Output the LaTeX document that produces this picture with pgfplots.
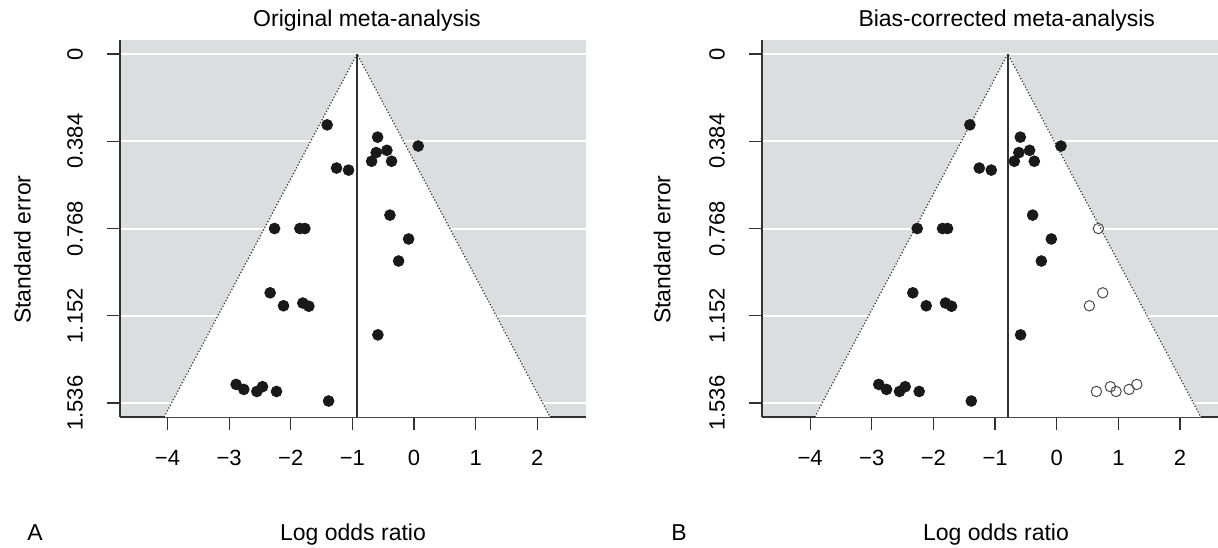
\documentclass[border=0pt]{standalone}
\usepackage{fontspec}
\setmainfont{Liberation Sans}
\usepackage{pgfplots}
\usepackage{pgfplotstable}
\pgfplotsset{compat=1.18}
\definecolor{bggray}{RGB}{220,221,223}
\definecolor{axdark}{RGB}{50,50,50}

% observed studies (log odds ratio, standard error)
\pgfplotstableread{
x y
-1.409 0.312
-0.591 0.366
0.068 0.405
-0.440 0.424
-0.614 0.434
-0.688 0.472
-0.364 0.472
-1.257 0.502
-1.062 0.511
-0.391 0.709
-2.263 0.768
-1.852 0.768
-1.771 0.768
-0.088 0.814
-0.250 0.911
-2.334 1.051
-2.117 1.108
-1.804 1.096
-1.706 1.110
-0.586 1.236
-2.886 1.454
-2.761 1.476
-2.550 1.485
-2.458 1.464
-2.231 1.485
-1.386 1.527
}\studies

% imputed studies (trim and fill)
\pgfplotstableread{
x y
0.675 0.768
0.746 1.051
0.529 1.108
0.643 1.485
0.870 1.464
0.962 1.485
1.173 1.476
1.298 1.454
}\filled

\newcommand{\fs}{\fontsize{11}{13}\selectfont}
\newcommand{\fst}{\fontsize{11.5}{13}\selectfont}

\pgfplotsset{
  funnel/.style={
    anchor=south west, scale only axis,
    height=188.5pt,
    ymin=-0.0614, ymax=1.5974, y dir=reverse,
    axis x line*=bottom, axis y line*=left,
    axis line style={axdark, line width=0.8pt, -},
    axis background/.style={fill=bggray},
    xtick={-4,-3,-2,-1,0,1,2},
    xticklabels={−4,−3,−2,−1,0,1,2},
    ytick={0,0.384,0.768,1.152,1.536},
    yticklabels={0,0.384,0.768,1.152,1.536},
    tick align=outside, major tick length=6.5pt,
    tick style={axdark, line width=0.6pt},
    ymajorgrids, grid style={white, line width=1pt},
    tick label style={font=\fs},
    yticklabel style={rotate=90, anchor=south},
    yticklabel shift=8.5pt,
    xticklabel shift=6.5pt,
    every axis x label/.style={at={(axis description cs:0.5,0)}, anchor=base, yshift=-61.5pt, font=\fst},
    every axis y label/.style={rotate=90, anchor=base, font=\fst},
    xlabel={Log odds ratio},
    ylabel={Standard error},
    clip=true,
  },
}

\begin{document}
\begin{tikzpicture}
\useasboundingbox (0pt,0pt) rectangle (609pt,273.5pt);

\begin{axis}[funnel,
  at={(60pt,65pt)}, width=233pt,
  xmin=-4.77, xmax=2.79,
  title={Original meta-analysis},
  every axis title/.style={at={(axis description cs:0.53,1)}, anchor=base, yshift=7pt, font=\fst},
  every axis y label/.append style={at={(axis description cs:-0.192,0.444)}},
]
\addplot[fill=white, draw=none] coordinates {(-4.055,1.5974) (-0.924,0) (2.207,1.5974)} -- cycle;
\addplot[densely dotted, black!80, line width=0.6pt] coordinates {(-4.055,1.5974) (-0.924,0) (2.207,1.5974)};
\addplot[axdark, line width=0.8pt] coordinates {(-0.924,0) (-0.924,1.5974)};
\addplot[only marks, mark=*, mark size=2.7pt, mark options={fill=black!90, draw=black!90}] table[x=x,y=y] {\studies};
\end{axis}

\begin{axis}[funnel,
  at={(381pt,65pt)}, width=234pt,
  xmin=-4.78, xmax=2.81,
  title={Bias-corrected meta-analysis},
  every axis title/.style={at={(axis description cs:0.523,1)}, anchor=base, yshift=7pt, font=\fst},
  every axis y label/.append style={at={(axis description cs:-0.196,0.444)}},
]
\addplot[fill=white, draw=none] coordinates {(-3.925,1.5974) (-0.794,0) (2.337,1.5974)} -- cycle;
\addplot[densely dotted, black!80, line width=0.6pt] coordinates {(-3.925,1.5974) (-0.794,0) (2.337,1.5974)};
\addplot[axdark, line width=0.8pt] coordinates {(-0.794,0) (-0.794,1.5974)};
\addplot[only marks, mark=*, mark size=2.7pt, mark options={fill=black!90, draw=black!90}] table[x=x,y=y] {\studies};
\addplot[only marks, mark=o, mark size=2.6pt, mark options={draw=black!70, line width=0.5pt, fill=white}] table[x=x,y=y] {\filled};
\end{axis}

\node[font=\fst, anchor=base] at (17.5pt,3.5pt) {A};
\node[font=\fst, anchor=base] at (339.5pt,3.5pt) {B};
\end{tikzpicture}
\end{document}
